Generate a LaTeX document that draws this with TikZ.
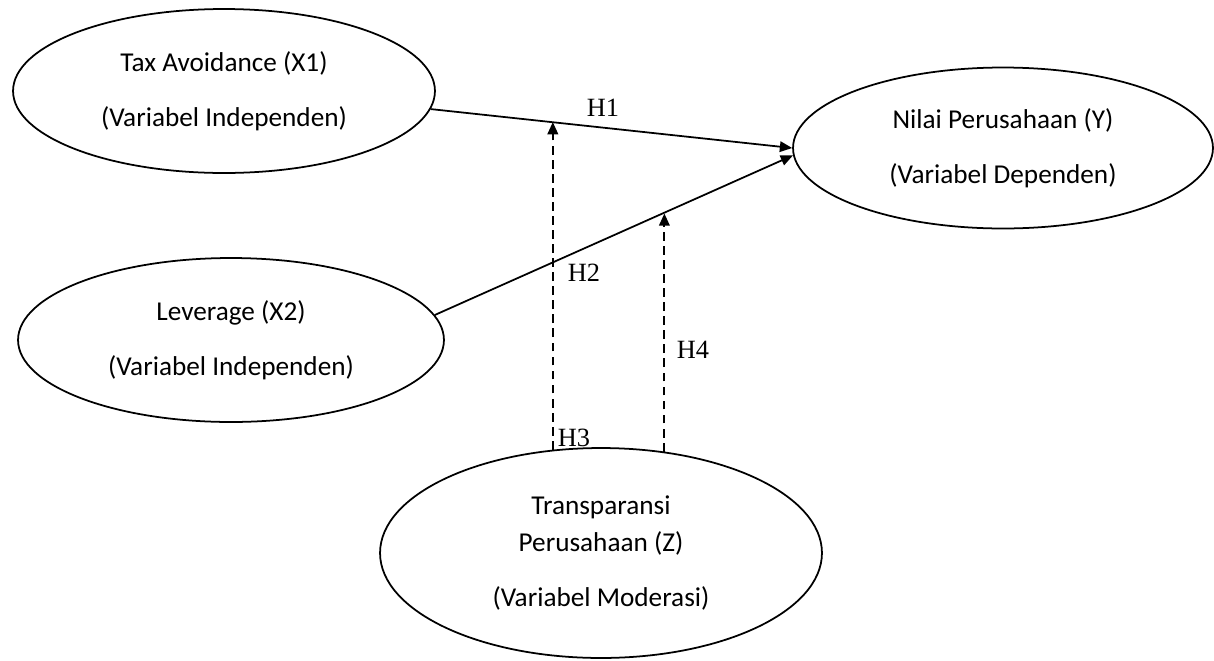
\documentclass[tikz,border=0pt]{standalone}
\usepackage{fontspec}
\setmainfont{Carlito}
\newfontfamily\hypfont{Liberation Serif}
\usetikzlibrary{shapes.geometric,arrows.meta}
\tikzset{
  var/.style={draw, ellipse, line width=1pt, align=center, inner sep=0pt, font=\fontsize{15.5}{21}\selectfont},
  hyp/.style={inner sep=0pt, font=\hypfont\fontsize{15}{17}\selectfont},
  link/.style={line width=1pt, -{Triangle[length=7pt,width=6pt]}},
  modlink/.style={link, line width=1.2pt, dash pattern=on 5pt off 3pt}
}
\begin{document}
\begin{tikzpicture}[x=0.02cm,y=-0.02cm]
\useasboundingbox (0,0) rectangle (1214,660);

\node[var, minimum width=8.44cm, minimum height=3.28cm] (x1) at (224,91) {Tax Avoidance (X1)\\[10pt](Variabel Independen)};
\node[var, minimum width=8.52cm, minimum height=3.28cm] (x2) at (231,340) {Leverage (X2)\\[10pt](Variabel Independen)};
\node[var, minimum width=8.40cm, minimum height=3.22cm] (y) at (1003,148) {Nilai Perusahaan (Y)\\[10pt](Variabel Dependen)};
\node[var, minimum width=8.84cm, minimum height=4.20cm] (z) at (601,553) {Transparansi\\Perusahaan (Z)\\[10pt](Variabel Moderasi)};

\draw[link] (x1.-5) -- coordinate[pos=0.333] (m1) (y.180);
\draw[link] (x2.7) -- coordinate[pos=0.636] (m2) (y.182.5);
\draw[modlink] (z.115) -- (z.115 |- m1);
\draw[modlink] (z.58) -- (z.58 |- m2);

\node[hyp] (h1) at (603,108) {H1};
\node[hyp] (h2) at (584,273) {H2};
\node[hyp] (h3) at (574,438) {H3};
\node[hyp] (h4) at (693,350) {H4};
\end{tikzpicture}
\end{document}
